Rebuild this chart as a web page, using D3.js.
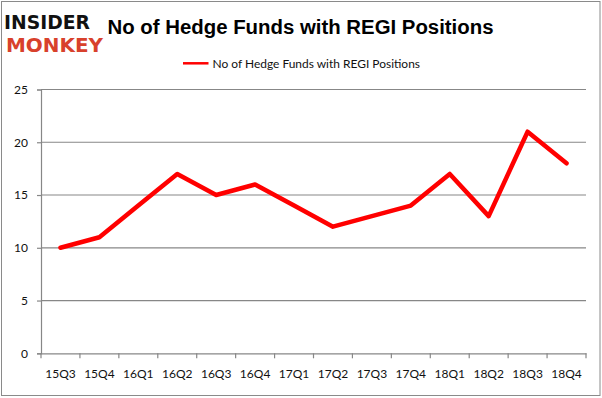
<!DOCTYPE html>
<html><head><meta charset="utf-8">
<script src="https://cdn.jsdelivr.net/npm/d3@7"></script>
<style>html,body{margin:0;padding:0;background:#fff;}svg{display:block;}</style>
</head><body>
<svg id="chart" width="602" height="398"></svg>
<script>
const categories = ["15Q3","15Q4","16Q1","16Q2","16Q3","16Q4","17Q1","17Q2","17Q3","17Q4","18Q1","18Q2","18Q3","18Q4"];
const values = [10,11,14,17,15,16,14,12,13,14,17,13,21,18];
const yTicks = [0,5,10,15,20,25];
const seriesName = "No of Hedge Funds with REGI Positions";
const titleText = "No of Hedge Funds with REGI Positions";

(function(){
const svg = d3.select("#chart");
const font = "Lato, 'Open Sans', sans-serif";

// outer border
svg.append("rect").attr("x",1.5).attr("y",1.5).attr("width",598.5).attr("height",394)
  .attr("fill","#fff").attr("stroke","#8a8a8a").attr("stroke-width",1);

const pL = 41, pR = 586, pT = 89.5, pB = 353.3;
const x = d3.scaleBand().domain(categories).range([pL, pR]);
const y = d3.scaleLinear().domain([0,25]).range([pB, pT]);

// gridlines
svg.append("g").selectAll("line").data(yTicks.filter(d=>d>0)).join("line")
  .attr("x1", pL).attr("x2", pR).attr("y1", d=>y(d)).attr("y2", d=>y(d))
  .attr("stroke","#878787").attr("stroke-width",1.2);

// y axis
const yAxis = svg.append("g").attr("transform",`translate(${pL},0)`)
  .call(d3.axisLeft(y).tickValues(yTicks).tickSize(4).tickPadding(9));
yAxis.select(".domain").attr("stroke","#878787").attr("stroke-width",1.2);
yAxis.selectAll(".tick line").attr("stroke","#878787").attr("stroke-width",1.2);
yAxis.selectAll("text").attr("font-family",font).attr("font-size","12px").attr("fill","#111");

// x axis
const xAxis = svg.append("g").attr("transform",`translate(0,${pB})`)
  .call(d3.axisBottom(x).tickSize(0).tickPadding(16));
xAxis.select(".domain").attr("stroke","#878787").attr("stroke-width",1.2);
xAxis.selectAll("text").attr("font-family",font).attr("font-size","12px").attr("fill","#111");
// tick marks at band boundaries
const bounds = categories.map(c=>x(c)).concat([pR]);
svg.append("g").selectAll("line").data(bounds).join("line")
  .attr("x1", d=>d).attr("x2", d=>d).attr("y1", pB).attr("y2", pB+5)
  .attr("stroke","#878787").attr("stroke-width",1.2);

// line
const line = d3.line().x((d,i)=>x(categories[i])+x.bandwidth()/2).y(d=>y(d));
svg.append("path").datum(values).attr("d", line).attr("fill","none")
  .attr("stroke","#ff0000").attr("stroke-width",4.5).attr("stroke-linejoin","round").attr("stroke-linecap","round");

// title
svg.append("text").attr("x",107.5).attr("y",34.3).text(titleText)
  .attr("font-family","'Liberation Sans', Arial, sans-serif").attr("font-weight","bold").attr("font-size","20px")
  .attr("fill","#000").attr("textLength",386).attr("lengthAdjust","spacingAndGlyphs");

// legend
svg.append("line").attr("x1",183).attr("x2",208.5).attr("y1",63.3).attr("y2",63.3)
  .attr("stroke","#ff0000").attr("stroke-width",2.5);
svg.append("text").attr("x",212.5).attr("y",67.5).text(seriesName)
  .attr("font-family",font).attr("font-size","12px").attr("fill","#111")
  .attr("textLength",207.5).attr("lengthAdjust","spacingAndGlyphs");

// logo
svg.append("text").attr("x",4).attr("y",28.5).text("INSIDER")
  .attr("font-family","'DejaVu Sans', sans-serif").attr("font-weight","bold").attr("font-size","20px")
  .attr("fill","#111").attr("textLength",86).attr("lengthAdjust","spacingAndGlyphs");
svg.append("text").attr("x",6).attr("y",52).text("MONKEY")
  .attr("font-family","'DejaVu Sans', sans-serif").attr("font-weight","bold").attr("font-size","20px")
  .attr("fill","#d8412c").attr("textLength",97).attr("lengthAdjust","spacingAndGlyphs");
})();
</script>
</body></html>
